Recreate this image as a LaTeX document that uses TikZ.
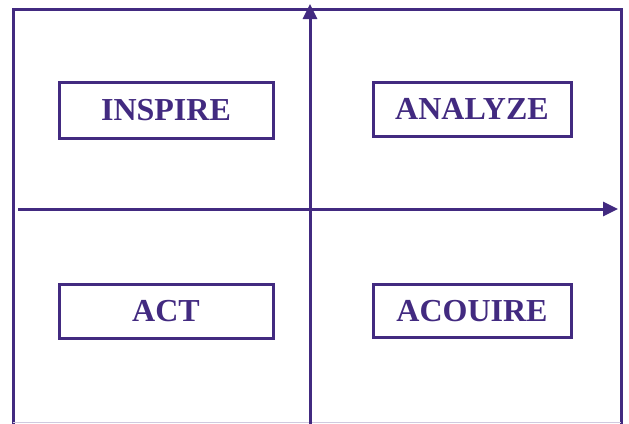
\documentclass[tikz,border=0pt]{standalone}
\usepackage{fontspec}
\setmainfont{Liberation Serif}
\usetikzlibrary{arrows.meta}
\definecolor{deeppurple}{RGB}{66,42,128}

\begin{document}
\begin{tikzpicture}
            [x=1pt,y=-1pt,line width=3pt,draw=deeppurple,
             quad/.style={draw=deeppurple,rectangle,inner sep=0pt,text=deeppurple,
                          font=\fontsize{32}{32}\selectfont\bfseries},
             axis/.style={draw=deeppurple,-{Triangle[length=15pt,width=14pt]}}]
            \useasboundingbox (0,0) rectangle (629,423);
            % frame
            \draw[deeppurple] (13,424) -- (13,9.5) -- (621,9.5) -- (621,424);
            \draw[deeppurple!25,line width=1pt] (13,422.5) -- (621,422.5);
            
            % axes
            \coordinate (ybot) at (310,424);
            \coordinate (ytop) at (310,4);
            \coordinate (xleft) at (18,209);
            \coordinate (xright) at (618,209);
            \draw[axis] (ybot) -- (ytop);
            \draw[axis] (xleft) -- (xright);
            
            % quadrants
            \node[quad,minimum width=214pt,minimum height=56pt] (inspire) at (166,110) {INSPIRE};
            \node[quad,minimum width=198pt,minimum height=54pt] (analyze) at (472,109) {ANALYZE};
            \node[quad,minimum width=214pt,minimum height=54pt] (act) at (166,311) {ACT};
            \node[quad,minimum width=198pt,minimum height=53pt] (acquire) at (472,311) {ACOUIRE};
        \end{tikzpicture}
\end{document}
